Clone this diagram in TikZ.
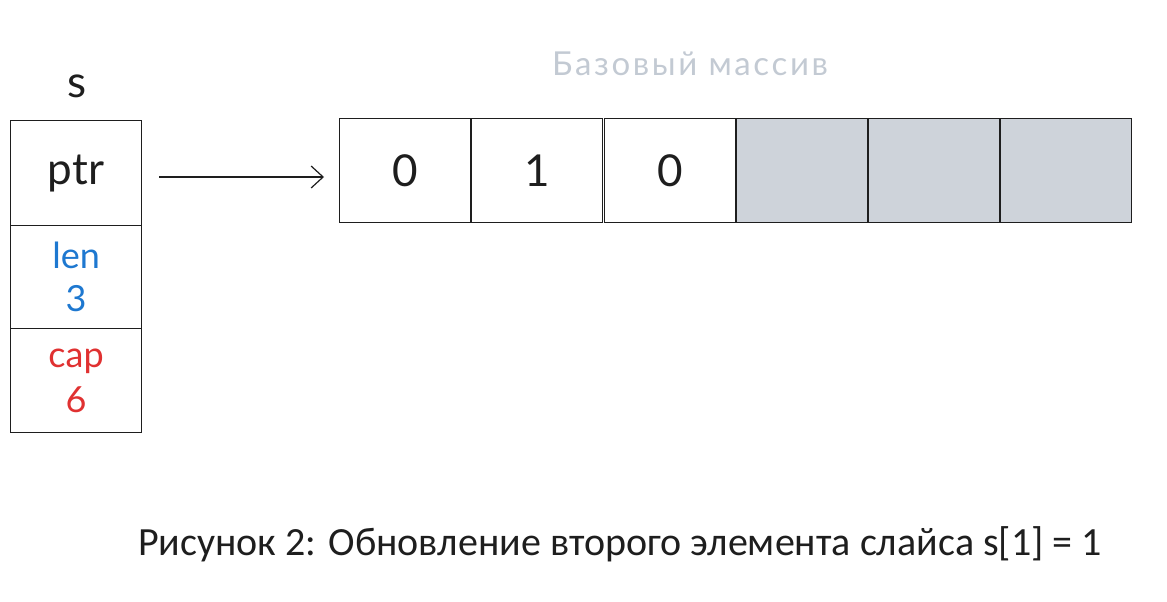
\documentclass[tikz,border=0pt]{standalone}
\usepackage{fontspec}
\setmainfont{Lato}
\newfontfamily\capfont{Carlito}
\newfontfamily\titlefont[LetterSpace=8]{Lato}
\usetikzlibrary{arrows.meta}
\definecolor{lenblue}{HTML}{1E78D0}
\definecolor{capred}{HTML}{E03131}
\definecolor{emptyfill}{HTML}{CED3DA}
\definecolor{titlegray}{HTML}{C3CAD3}
\definecolor{inkblack}{HTML}{1E1E1E}
\tikzset{
  cell/.style={draw=inkblack, line width=1.1pt, minimum width=131pt, minimum height=104pt, inner sep=0pt, anchor=north west, font=\fontsize{44}{48}\selectfont, text=inkblack},
  emptycell/.style={cell, fill=emptyfill},
  field/.style={draw=inkblack, line width=1.1pt, minimum width=131pt, inner sep=0pt, anchor=north west, align=center},
  ptrarrow/.style={draw=inkblack, line width=1.2pt, -{Straight Barb[length=12pt, width=22pt, line width=1.2pt]}},
}
\begin{document}
\begin{tikzpicture}[x=1pt, y=-1pt]
\useasboundingbox (0,0) rectangle (1167,602);
% slice header
\node[font=\fontsize{44}{48}\selectfont, text=inkblack] (slabel) at (77,86) {s};
\node[field, minimum height=105pt, font=\fontsize{44}{48}\selectfont, text=inkblack] (ptr) at (10,120) {ptr};
\node[field, minimum height=103pt, font=\fontsize{36}{43}\selectfont, text=lenblue] (len) at (10,225) {len\\3};
\node[field, minimum height=104pt, font=\fontsize{36}{45}\selectfont, text=capred] (cap) at (10,328) {cap\\6};
% backing array
\node[font=\titlefont\fontsize{33}{36}\selectfont, text=titlegray] (title) at (690,64) {Базовый массив};
\node[cell] (a0) at (339,118) {0};
\node[cell] (a1) at (471,118) {1};
\node[cell] (a2) at (604,118) {0};
\node[emptycell] (a3) at (736,118) {};
\node[emptycell] (a4) at (868,118) {};
\node[emptycell] (a5) at (1000,118) {};
% pointer
\coordinate (pstart) at (159,177);
\coordinate (pend) at (324,177);
\draw[ptrarrow] (pstart) -- (pend);
% caption
\node[font=\capfont\fontsize{40}{44}\selectfont, text=inkblack] (caption) at (620,544) {Рисунок 2: Обновление второго элемента слайса s[1] = 1};
\end{tikzpicture}
\end{document}
